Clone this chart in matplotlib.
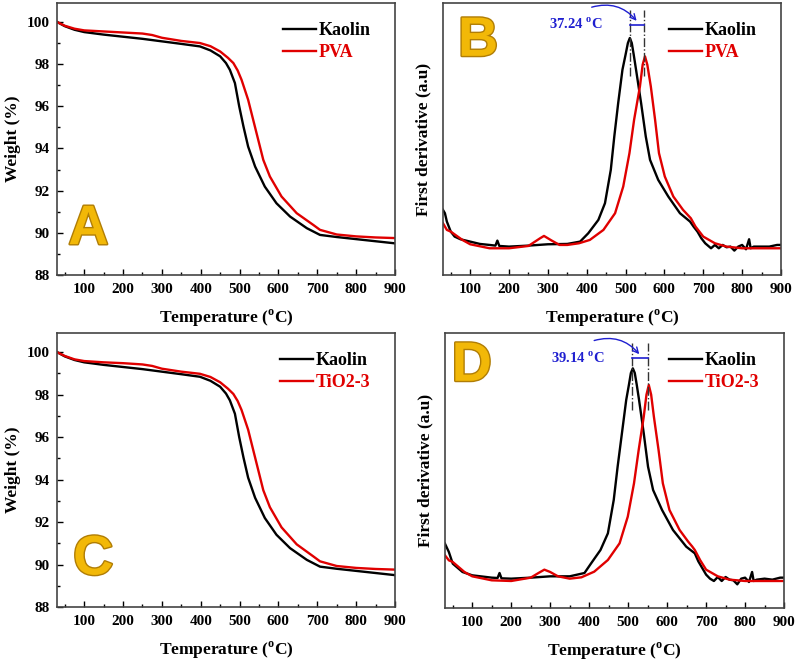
import matplotlib
matplotlib.use("Agg")
import matplotlib.pyplot as plt
import matplotlib.patheffects as pe
from matplotlib.ticker import MultipleLocator

plt.rcParams['font.family'] = ['Liberation Serif', 'DejaVu Serif']
plt.rcParams['font.weight'] = 'bold'
plt.rcParams['mathtext.fontset'] = 'custom'
plt.rcParams['mathtext.rm'] = 'Liberation Serif:bold'
plt.rcParams['mathtext.bf'] = 'Liberation Serif:bold'

# TGA (weight %) - panel A
tga_kaolin_t = [30, 50, 75, 100, 150, 200, 250, 300, 350, 398, 425, 450, 465, 475, 488, 499, 510, 522,
                540, 565, 595, 630, 673, 707, 750, 800, 850, 900]
tga_kaolin_w = [100.0, 99.8, 99.63, 99.52, 99.4, 99.3, 99.2, 99.08, 98.96, 98.84, 98.65, 98.37, 98.05,
                97.73, 97.1, 96.0, 95.04, 94.09, 93.14, 92.19, 91.4, 90.77, 90.22, 89.9, 89.8, 89.7,
                89.6, 89.5]
tga_pva_t = [30, 50, 75, 100, 150, 200, 250, 275, 300, 350, 398, 425, 450, 470, 484, 495, 505, 522, 535,
             548, 561, 578, 608, 647, 690, 707, 750, 800, 850, 900]
tga_pva_w = [100.0, 99.82, 99.68, 99.6, 99.55, 99.5, 99.45, 99.38, 99.25, 99.1, 99.0, 98.85, 98.6, 98.3,
             98.05, 97.7, 97.26, 96.31, 95.36, 94.41, 93.46, 92.67, 91.72, 90.93, 90.37, 90.14, 89.92,
             89.83, 89.78, 89.75]

# TGA - panel C
tga_tio2_t = [30, 50, 75, 100, 150, 200, 250, 275, 300, 350, 398, 425, 450, 470, 484, 495, 505, 522, 535,
              548, 561, 578, 608, 647, 690, 707, 750, 800, 850, 900]
tga_tio2_w = [100.0, 99.82, 99.66, 99.58, 99.52, 99.48, 99.42, 99.35, 99.22, 99.08, 98.98, 98.83, 98.58,
              98.28, 98.03, 97.7, 97.28, 96.35, 95.4, 94.45, 93.5, 92.7, 91.75, 90.95, 90.38, 90.15,
              89.93, 89.84, 89.79, 89.76]

# DTG (a.u) - panel B
dtg_kaolin_t = [30, 35, 40, 50, 60, 75, 100, 125, 150, 165, 170, 175, 200, 250, 300, 350, 383, 404, 430,
                447, 462, 471, 481, 492, 500, 506, 511, 516, 521, 527, 540, 552, 563, 584, 610, 640, 666,
                675, 685, 695, 705, 715, 720, 730, 740, 750, 760, 770, 780, 790, 800, 810, 818, 822, 830,
                850, 870, 890, 900]
dtg_kaolin_v = [1.95, 1.85, 1.6, 1.3, 1.15, 1.07, 1.0, 0.93, 0.9, 0.88, 1.03, 0.87, 0.85, 0.88, 0.92,
                0.93, 1.0, 1.25, 1.65, 2.15, 3.15, 4.15, 5.15, 6.15, 6.6, 6.95, 7.1, 6.95, 6.6, 6.15,
                5.15, 4.15, 3.45, 2.85, 2.35, 1.85, 1.6, 1.45, 1.3, 1.1, 0.95, 0.85, 0.8, 0.9, 0.8, 0.9,
                0.83, 0.85, 0.73, 0.85, 0.9, 0.77, 1.07, 0.8, 0.85, 0.85, 0.85, 0.9, 0.9]
dtg_pva_t = [30, 40, 50, 80, 100, 150, 200, 250, 280, 290, 310, 330, 350, 380, 408, 443, 473, 494, 510,
             522, 537, 544, 550, 556, 565, 576, 586, 601, 623, 648, 660, 668, 680, 700, 730, 760, 800,
             900]
dtg_pva_v = [1.55, 1.35, 1.3, 1.05, 0.92, 0.8, 0.8, 0.87, 1.1, 1.17, 1.03, 0.9, 0.9, 0.95, 1.05, 1.35,
             1.85, 2.65, 3.65, 4.65, 5.65, 6.3, 6.55, 6.3, 5.65, 4.65, 3.65, 2.95, 2.35, 1.95, 1.8, 1.7,
             1.45, 1.15, 0.95, 0.85, 0.8, 0.8]

# DTG - panel D
dtg_kaolin2_t = [30, 40, 50, 75, 100, 150, 165, 170, 175, 200, 250, 300, 350, 388, 405, 429, 448, 463,
                 473, 484, 495, 502, 507, 512, 517, 522, 528, 540, 551, 564, 587, 615, 649, 671, 680, 690,
                 700, 710, 720, 730, 740, 750, 760, 770, 780, 790, 800, 810, 818, 822, 830, 850, 870, 890,
                 900]
dtg_kaolin2_v = [1.93, 1.68, 1.33, 1.08, 0.98, 0.91, 0.9, 1.05, 0.89, 0.88, 0.91, 0.95, 0.95, 1.05, 1.34,
                 1.74, 2.24, 3.24, 4.24, 5.24, 6.24, 6.7, 7.05, 7.19, 7.05, 6.7, 6.24, 5.24, 4.24, 3.54,
                 2.94, 2.34, 1.84, 1.64, 1.4, 1.2, 1.0, 0.88, 0.81, 0.93, 0.81, 0.93, 0.85, 0.83, 0.71,
                 0.88, 0.91, 0.78, 1.08, 0.81, 0.85, 0.88, 0.85, 0.91, 0.91]
dtg_tio2_t = [30, 40, 50, 80, 100, 150, 200, 250, 270, 285, 300, 320, 350, 380, 413, 448, 478, 499, 515,
              527, 540, 547, 553, 559, 566, 578, 589, 606, 632, 654, 664, 671, 685, 700, 730, 760, 800,
              900]
dtg_tio2_v = [1.58, 1.43, 1.38, 1.08, 0.95, 0.83, 0.81, 0.91, 1.05, 1.15, 1.08, 0.95, 0.88, 0.92, 1.09,
              1.44, 1.94, 2.74, 3.74, 4.74, 5.74, 6.4, 6.69, 6.4, 5.74, 4.74, 3.74, 2.94, 2.34, 1.99,
              1.85, 1.74, 1.43, 1.15, 0.95, 0.85, 0.81, 0.81]

fig = plt.figure(figsize=(7.96, 6.61), dpi=100)

ax_a = fig.add_axes([0.0716, 0.584, 0.4246, 0.4115])
ax_b = fig.add_axes([0.5565, 0.584, 0.4246, 0.4115])
ax_c = fig.add_axes([0.0716, 0.0817, 0.4246, 0.4145])
ax_d = fig.add_axes([0.559, 0.0802, 0.426, 0.416])

xlabel = r'Temperature ($^{\mathbf{o}}$C)'


def style_axis(ax):
    ax.set_xlim(30, 900)
    ax.xaxis.set_major_locator(MultipleLocator(100))
    ax.xaxis.set_minor_locator(MultipleLocator(50))
    ax.tick_params(which='both', direction='in', labelsize=11, width=1, pad=6)
    ax.tick_params(which='major', length=4)
    ax.tick_params(which='minor', length=2.5)
    for s in ax.spines.values():
        s.set_color('#444444')
        s.set_linewidth(1.2)
    ax.set_xticks(range(100, 901, 100))
    ax.set_xlabel(xlabel, fontsize=12.5, fontweight='bold', labelpad=8)
    for lab in ax.get_xticklabels() + ax.get_yticklabels():
        lab.set_fontweight('bold')


def big_letter(ax, s, x, y):
    ax.text(x, y, s, transform=ax.transAxes, fontsize=40, fontweight='bold',
            family='Liberation Sans', color='#F2B807', ha='center', va='center',
            path_effects=[pe.withStroke(linewidth=2, foreground='#B07D05')])


def legend(ax):
    ax.legend(loc='upper right', bbox_to_anchor=(0.975, 0.99), frameon=False,
              prop={'weight': 'bold', 'size': 13}, handlelength=1.8, handletextpad=0.15,
              labelspacing=0.3, labelcolor='linecolor')


def tga_panel(ax, t1, w1, t2, w2, name, letter, lx, ly):
    ax.plot(t1, w1, color='black', lw=1.7, label='Kaolin')
    ax.plot(t2, w2, color='#E00000', lw=1.7, label=name)
    style_axis(ax)
    ax.set_ylim(88, 100.9)
    ax.yaxis.set_major_locator(MultipleLocator(2))
    ax.yaxis.set_minor_locator(MultipleLocator(1))
    ax.set_yticks(range(88, 101, 2))
    ax.tick_params(axis='y', pad=5)
    for lab in ax.get_yticklabels():
        lab.set_fontweight('bold')
    ax.set_ylabel('Weight (%)', fontsize=12.5, fontweight='bold', labelpad=4)
    legend(ax)
    big_letter(ax, letter, lx, ly)


def dtg_panel(ax, t1, v1, t2, v2, name, letter, lx, ly, p1, p2, shift, ytop):
    ax.plot(t1, v1, color='black', lw=1.7, label='Kaolin')
    ax.plot(t2, v2, color='#E00000', lw=1.7, label=name)
    style_axis(ax)
    ax.set_ylim(0, ytop)
    ax.set_yticks([])
    ax.set_ylabel('First derivative (a.u)', fontsize=12.5, fontweight='bold', labelpad=8)
    legend(ax)
    big_letter(ax, letter, lx, ly)
    # peak markers
    for p in (p1, p2):
        ax.plot([p, p], [5.95, 7.95], color='#333333', lw=1, ls='-.')
    yb = 7.5
    ax.plot([p1, p2], [yb, yb], color='#1f1fd0', lw=1.2)
    ax.annotate('', xy=(p1 + 22, yb + 0.05), xytext=(p1 - 105, 8.0),
                arrowprops=dict(arrowstyle='->', color='#1f1fd0', lw=1,
                                connectionstyle='arc3,rad=-0.35'))
    ax.text(p1 - 140, yb, shift + r' $^{\mathbf{o}}$C', color='#1f1fd0', fontsize=10.5,
            fontweight='bold', ha='center', va='center')


tga_panel(ax_a, tga_kaolin_t, tga_kaolin_w, tga_pva_t, tga_pva_w, 'PVA', 'A', 0.093, 0.165)
tga_panel(ax_c, tga_kaolin_t, tga_kaolin_w, tga_tio2_t, tga_tio2_w, 'TiO2-3', 'C', 0.107, 0.17)
dtg_panel(ax_b, dtg_kaolin_t, dtg_kaolin_v, dtg_pva_t, dtg_pva_v, 'PVA', 'B', 0.104, 0.857,
          511, 548, '37.24', 8.15)
dtg_panel(ax_d, dtg_kaolin2_t, dtg_kaolin2_v, dtg_tio2_t, dtg_tio2_v, 'TiO2-3', 'D', 0.079, 0.877,
          511, 551, '39.14', 8.25)

fig.savefig('out.png', dpi=100)
